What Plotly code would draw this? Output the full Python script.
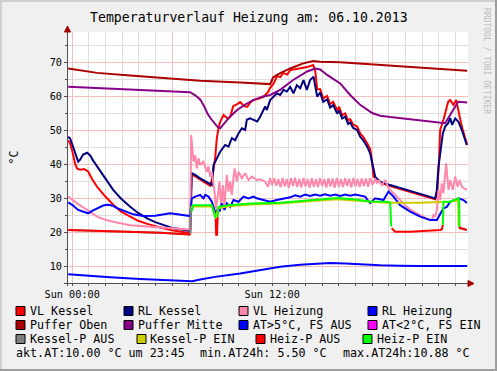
import plotly.graph_objects as go

# ---------------- data: time in hours after Sun 00:00, values in °C ----------------
VLK_T = [-0.24, -0.12, 0.00, 0.18, 0.30, 0.48, 0.72, 0.96, 1.20, 1.50, 1.98, 2.46, 2.94, 3.48, 3.96, 4.50, 4.98, 5.46, 6.00, 6.48, 7.08,
         7.17, 7.38, 7.68, 7.98, 8.28, 8.38, 8.58, 8.68, 8.78, 8.88, 9.08, 9.30, 9.48, 9.66, 9.90, 10.08, 10.32, 10.50, 10.68, 10.86,
         11.16, 11.46, 11.76, 11.88, 12.06, 12.30, 12.48, 12.66, 12.90, 13.08, 13.38, 13.68, 14.10, 14.46, 14.58, 14.70,
         14.88, 15.06, 15.30, 15.48, 15.66, 15.90, 16.02, 16.20, 16.38, 16.56, 16.68, 16.86, 17.10, 17.28, 17.46, 17.70, 17.88, 18.00,
         18.08, 18.28, 18.48, 18.78, 19.08, 21.78, 21.90, 22.02, 22.08, 22.28, 22.48, 22.56, 22.68, 22.88, 23.04, 23.18, 23.38, 23.70]
VLK_V = [47.0, 46.0, 44.0, 40.0, 38.6, 38.3, 38.5, 37.8, 35.5, 33.3, 30.5, 28.0, 26.0, 24.5, 23.3, 22.4, 21.7, 21.1, 20.5, 20.1, 19.6,
         37.0, 36.3, 35.3, 34.5, 33.6, 35.3, 41.7, 47.6, 50.5, 52.4, 54.4, 53.5, 53.8, 57.0, 57.6, 58.2, 57.0, 56.8, 58.0, 58.8,
         59.2, 59.7, 61.2, 62.4, 63.5, 65.9, 65.5, 66.8, 66.3, 67.6, 67.9, 68.2, 68.5, 69.1, 67.6, 62.0,
         62.0, 59.3, 60.0, 57.6, 58.3, 55.8, 56.8, 54.4, 54.9, 52.8, 53.2, 51.6, 51.0, 49.0, 48.0, 46.1, 44.5, 40.5,
         36.3, 35.5, 34.5, 34.0, 33.5, 29.6, 31.0, 42.0, 50.0, 53.0, 56.9, 58.3, 58.8, 57.4, 58.8, 55.9, 51.0, 45.6]

RLK_T = [-0.24, -0.12, 0.06, 0.24, 0.36, 0.48, 0.66, 0.90, 1.08, 1.26, 1.50, 1.98, 2.46, 2.94, 3.48, 3.96, 4.50, 4.98, 5.46, 6.00, 6.48, 7.08,
         7.17, 7.38, 7.68, 7.98, 8.28, 8.40, 8.48, 8.68, 8.88, 9.18, 9.38, 9.58, 9.78, 9.98, 10.18, 10.38, 10.48, 10.68, 10.88, 11.10,
         11.28, 11.58, 11.68, 11.88, 12.08, 12.28, 12.48, 12.68, 12.88, 13.08, 13.28, 13.48, 13.68, 13.88, 14.08, 14.28, 14.48, 14.58, 14.70,
         14.88, 15.06, 15.30, 15.48, 15.66, 15.90, 16.02, 16.20, 16.38, 16.56, 16.68, 16.86, 17.10, 17.28, 17.46, 17.70, 17.88, 18.00,
         18.18, 18.48, 18.78, 19.08, 21.78, 21.88, 21.98, 22.08, 22.24, 22.38, 22.56, 22.68, 22.80, 22.98, 23.18, 23.38, 23.68]
RLK_V = [48.0, 47.5, 45.0, 42.0, 40.7, 41.3, 42.8, 43.3, 42.5, 41.0, 39.2, 35.6, 32.4, 29.8, 27.4, 25.6, 24.0, 22.9, 22.0, 21.2, 20.8, 20.3,
         37.3, 36.8, 35.8, 35.0, 34.2, 33.8, 39.7, 41.7, 43.6, 45.6, 45.1, 47.6, 47.0, 49.0, 50.5, 50.0, 53.0, 53.4, 53.0, 52.5,
         53.9, 56.9, 55.9, 58.8, 59.8, 60.8, 60.3, 61.8, 61.3, 62.7, 60.8, 63.2, 62.3, 64.7, 61.8, 64.7, 65.7, 63.2, 59.8,
         61.0, 58.3, 59.0, 56.6, 57.3, 54.8, 55.8, 53.4, 53.9, 51.8, 52.2, 50.6, 50.0, 48.0, 47.0, 45.1, 43.1, 40.0,
         36.3, 34.8, 34.3, 33.8, 29.9, 32.4, 39.2, 43.1, 49.0, 51.0, 52.0, 53.5, 51.5, 53.4, 52.4, 50.0, 45.6]

VLH_T = [-0.24, 0.00, 0.36, 0.90, 1.50, 1.98, 2.46, 3.48, 4.50, 5.46, 6.48, 7.08,
         7.14, 7.28, 7.38, 7.48, 7.58, 7.68, 7.88, 8.08, 8.18, 8.28, 8.38, 8.54, 8.62, 8.72, 8.84, 8.94, 9.04, 9.14, 9.28, 9.38,
         9.48, 9.58, 9.74, 9.88, 9.98, 10.18, 10.38, 10.58, 10.78, 11.08, 11.28, 11.58,
         11.75, 11.875, 12.0, 12.125, 12.25, 12.375, 12.5, 12.625, 12.75, 12.875, 13.0, 13.125, 13.25, 13.375, 13.5, 13.625,
         13.75, 13.875, 14.0, 14.125, 14.25, 14.375, 14.5, 14.625, 14.75, 14.875, 15.0, 15.125, 15.25, 15.375, 15.5, 15.625,
         15.75, 15.875, 16.0, 16.125, 16.25, 16.375, 16.5, 16.625, 16.75, 16.875, 17.0, 17.125, 17.25, 17.375, 17.5, 17.625,
         17.75, 17.875, 18.0,
         18.08, 18.18, 18.28, 18.38, 18.58, 18.78, 18.98, 19.28, 19.68, 20.08, 20.48, 20.88, 21.28, 21.58, 21.68, 21.78, 21.88,
         21.98, 22.08, 22.18, 22.28, 22.44, 22.58, 22.68, 22.84, 22.98, 23.12, 23.24, 23.38, 23.68]
VLH_V = [30.4, 29.5, 28.2, 26.5, 24.5, 23.6, 23.0, 22.0, 21.6, 21.3, 20.9, 20.7,
         48.5, 40.7, 42.6, 38.7, 41.7, 39.7, 40.7, 37.7, 39.3, 36.3, 37.7, 31.9, 27.0, 29.9, 34.8, 27.0, 33.8, 28.0, 36.8, 31.9,
         34.8, 30.9, 38.7, 34.8, 37.7, 35.8, 37.3, 35.3, 36.3, 35.3, 35.5, 34.8,
         33.3, 35.8, 33.8, 35.8, 33.6, 35.5, 33.2, 35.9, 33.4, 35.6, 33.0, 35.8, 33.5, 36.0, 33.2, 35.7,
         33.1, 35.9, 33.4, 35.6, 33.0, 35.8, 33.3, 35.5, 33.2, 35.9, 33.5, 35.6, 33.1, 35.8, 33.4, 35.7,
         33.0, 35.9, 33.3, 35.6, 33.2, 35.8, 33.5, 35.7, 33.1, 35.9, 33.4, 35.6, 33.2, 35.8, 33.5, 35.7,
         33.3, 35.9, 34.0,
         34.3, 35.8, 34.3, 35.3, 33.8, 35.3, 32.9, 31.4, 29.4, 27.4, 26.0, 25.0, 24.0, 23.5, 25.0, 24.5, 26.5,
         32.4, 29.4, 34.3, 31.4, 40.2, 32.4, 35.3, 32.4, 36.3, 33.3, 35.3, 33.3, 32.4]

RLH_T = [-0.24, 0.00, 0.36, 0.72, 0.96, 1.20, 1.50, 1.86, 2.10, 2.40, 2.70, 3.18, 3.66, 4.26, 4.98, 5.88, 6.48, 7.08,
         7.18, 7.38, 7.68, 7.88, 7.98, 8.18, 8.38, 8.54, 8.64, 8.74, 8.84, 8.98, 9.14, 9.28, 9.48, 9.68, 9.98, 10.28, 10.58,
         10.88, 11.08, 11.48, 11.88, 12.28, 12.66, 13.08, 13.38, 13.68, 13.98, 14.28, 14.58, 14.88, 15.18, 15.48, 15.78,
         16.08, 16.38, 16.68, 16.98, 17.28, 17.58, 17.76, 17.88, 18.18, 18.68, 18.98, 19.28, 19.68, 20.28, 20.88, 21.48,
         21.88, 22.08, 22.28, 22.48, 22.68, 22.98, 23.18, 23.48, 23.68]
RLH_V = [28.7, 28.0, 26.5, 26.0, 25.5, 26.2, 27.0, 27.8, 28.0, 27.8, 27.0, 26.0, 25.2, 24.7, 24.8, 25.5, 25.0, 24.7,
         29.9, 30.4, 30.9, 29.9, 30.9, 30.4, 28.9, 26.0, 25.0, 27.0, 26.0, 28.4, 26.5, 28.4, 27.4, 29.4, 28.9, 30.4, 29.9,
         30.4, 29.9, 29.4, 28.9, 29.4, 29.8, 30.2, 30.8, 30.4, 31.0, 30.6, 31.0, 30.7, 31.1, 30.7, 31.0,
         30.6, 31.0, 30.7, 31.0, 30.6, 30.4, 29.2, 28.5, 29.9, 29.4, 31.9, 30.4, 27.9, 26.0, 24.5, 23.5,
         23.5, 25.5, 27.0, 27.4, 28.9, 29.4, 29.9, 29.4, 28.5]

PO_T = [-0.24, 1.50, 3.48, 5.46, 7.68, 10.08, 11.88, 12.06, 12.48, 13.08, 13.86, 14.46, 14.88, 16.08, 17.88, 20.46, 23.70]
PO_V = [68.1, 66.8, 66.0, 65.2, 64.5, 64.0, 63.5, 65.5, 66.7, 68.1, 69.6, 70.3, 70.1, 69.9, 69.3, 68.3, 67.4]

PM_T = [-0.24, 3.48, 7.08, 7.38, 7.68, 7.92, 8.10, 8.28, 8.46, 8.70, 8.88, 9.18, 9.48, 9.90, 10.38, 10.86, 11.40, 11.88,
        12.48, 13.26, 14.10, 14.58, 14.88, 15.30, 16.08, 16.68, 17.28, 18.00, 18.48, 19.08, 20.28, 22.08, 22.38, 22.68,
        22.98, 23.16, 23.70]
PM_V = [62.7, 61.8, 61.1, 60.2, 59.0, 57.0, 55.0, 53.6, 52.4, 51.0, 50.5, 52.4, 54.0, 55.9, 57.5, 58.8, 59.8, 60.3,
        61.8, 64.7, 67.2, 68.1, 67.8, 66.2, 63.7, 60.3, 57.4, 55.0, 54.2, 53.8, 53.2, 52.3, 52.0, 54.4,
        57.0, 58.3, 58.1]

AT_T = [-0.24, 0.48, 2.28, 4.08, 5.88, 6.78, 7.20, 7.68, 8.58, 10.08, 11.28, 12.48, 13.68, 14.46, 15.48, 16.38, 17.28,
        18.48, 19.68, 20.88, 23.70]
AT_V = [7.6, 7.3, 6.7, 6.2, 5.7, 5.5, 5.5, 6.0, 6.8, 7.8, 8.7, 9.8, 10.4, 10.7, 10.88, 10.7, 10.4, 10.2, 10.1, 10.0, 10.0]

AT2_T = []   # outdoor temperature never below 2 °C
AT2_V = []

KPA_T = [-0.24, 1.68, 3.48, 5.28, 7.08, 7.13, None, 23.19, 23.28, 23.68]
KPA_V = [20.6, 20.3, 20.1, 19.8, 19.3, 27.5, None, 21.6, 21.1, 20.6]
KPE_T = [7.13, 7.20, 7.68, 8.38, 8.54, 8.64, 8.76, 9.36, 10.78, 12.48, 14.46, 15.90, 16.86, 18.90, 20.88, 22.08, 22.68,
         23.08, 23.16, 23.19]
KPE_V = [27.5, 27.5, 27.6, 27.6, 25.5, 24.5, 27.0, 27.6, 28.1, 28.4, 29.1, 29.6, 29.3, 28.6, 28.6, 28.7, 28.9,
         29.4, 28.5, 21.6]

HPA_T = [-0.24, 1.68, 3.48, 5.28, 7.08, None, 8.61, 8.64, 8.69, 8.73, None, 19.17, 19.38, 20.28, 21.48, 22.08, 22.18,
         22.24, None, 23.24, 23.28, 23.38, 23.68]
HPA_V = [20.6, 20.3, 20.1, 19.8, 19.3, None, 24.0, 19.2, 19.2, 24.5, None, 21.1, 20.1, 20.1, 20.4, 20.6, 20.8,
         22.1, None, 21.6, 21.1, 21.1, 20.6]
HPE_T = [7.17, 7.26, 7.68, 8.38, 8.54, 8.61, None, 8.73, 8.78, 9.36, 10.78, 12.48, 14.46, 15.90, 16.86, 17.88, 18.90,
         19.08, 19.14, None, 22.24, 22.28, 22.68, 22.98, 23.18, 23.22, 23.24]
HPE_V = [26.0, 27.9, 27.9, 27.9, 25.0, 24.0, None, 24.5, 27.4, 27.9, 28.4, 28.6, 29.4, 30.0, 29.6, 29.0, 28.9,
         28.6, 21.6, None, 22.1, 28.9, 28.9, 29.4, 29.9, 29.5, 21.6]

X_TICKS = [0, 6, 12, 18]
X_TICKTEXT = ["Sun 00:00", "", "Sun 12:00", ""]

LEG_NAMES = ["VL Kessel", "RL Kessel", "VL Heizung", "RL Heizung",
             "Puffer Oben", "Puffer Mitte", "AT&gt;5°C, FS AUS", "AT&lt;2°C, FS EIN",
             "Kessel-P AUS", "Kessel-P EIN", "Heiz-P AUS", "Heiz-P EIN"]
COMMENTS = ["akt.AT:10.00 °C um 23:45", "min.AT24h: 5.50 °C", "max.AT24h:10.88 °C"]
TITLE = "Temperaturverlauf Heizung am: 06.10.2013"

# ---------------- styles ----------------
COLORS = ["#FF0000", "#000080", "#FF88AA", "#0000FF",
          "#AA0000", "#880088", "#0000FF", "#FF00FF",
          "#808080", "#CCCC00", "#FF0000", "#00FF00"]
SERIES = [(VLK_T, VLK_V), (RLK_T, RLK_V), (VLH_T, VLH_V), (RLH_T, RLH_V),
          (PO_T, PO_V), (PM_T, PM_V), (AT_T, AT_V), (AT2_T, AT2_V),
          (KPA_T, KPA_V), (KPE_T, KPE_V), (HPA_T, HPA_V), (HPE_T, HPE_V)]

FONT = "DejaVu Sans Mono"
W, H = 497, 371
L, R, T, B = 68, 29, 32, 88
PW, PH = W - L - R, H - T - B
BOTTOM = H - B


def fx(p):
    return (p - L) / PW


def fy(p):
    return (BOTTOM - p) / PH


fig = go.Figure()
for name, (t, v), c in zip(LEG_NAMES, SERIES, COLORS):
    fig.add_trace(go.Scatter(x=t, y=v, mode="lines", name=name,
                             line=dict(color=c, width=2), connectgaps=False,
                             showlegend=False, hoverinfo="skip"))

GRID = "#DEDEDE"
MGRID = "#F4BEBE"
AXIS = "#505050"
ARROW = "#A00000"

fig.update_layout(
    width=W, height=H,
    margin=dict(l=L, r=R, t=T, b=B, pad=0),
    paper_bgcolor="#F0F0F0", plot_bgcolor="#FFFFFF",
    showlegend=False,
    font=dict(family=FONT, size=11.7, color="#000000"),
    xaxis=dict(range=[-0.25, 23.75], tickmode="array", tickvals=X_TICKS, ticktext=X_TICKTEXT,
               showgrid=True, gridcolor=MGRID, gridwidth=1, zeroline=False, showline=False,
               ticks="outside", ticklen=2, tickcolor=AXIS,
               tickfont=dict(family=FONT, size=10.2, color="#000000"),
               minor=dict(tickmode="linear", tick0=0, dtick=1, showgrid=True, gridcolor=GRID,
                          gridwidth=1, ticks="outside", ticklen=2, tickcolor=AXIS),
               fixedrange=True),
    yaxis=dict(range=[5, 5 + PH / 3.4], tickmode="linear", tick0=0, dtick=10,
               showgrid=True, gridcolor=MGRID, gridwidth=1, zeroline=False, showline=False,
               ticks="outside", ticklen=3, tickcolor=AXIS,
               tickfont=dict(family=FONT, size=10.2, color="#000000"),
               minor=dict(tickmode="linear", tick0=0, dtick=5, showgrid=True, gridcolor=GRID,
                          gridwidth=1, ticks="outside", ticklen=2, tickcolor=AXIS),
               fixedrange=True),
)

shapes = []
annotations = []

# frame shading
shapes.append(dict(type="rect", xref="paper", yref="paper", x0=fx(0), x1=fx(W), y0=fy(0), y1=fy(2),
                   fillcolor="#CFCFCF", line=dict(width=0), layer="below"))
shapes.append(dict(type="rect", xref="paper", yref="paper", x0=fx(0), x1=fx(2), y0=fy(0), y1=fy(H),
                   fillcolor="#CFCFCF", line=dict(width=0), layer="below"))
shapes.append(dict(type="rect", xref="paper", yref="paper", x0=fx(W - 2), x1=fx(W), y0=fy(0), y1=fy(H),
                   fillcolor="#9E9E9E", line=dict(width=0), layer="below"))
shapes.append(dict(type="rect", xref="paper", yref="paper", x0=fx(0), x1=fx(W), y0=fy(H - 2), y1=fy(H),
                   fillcolor="#9E9E9E", line=dict(width=0), layer="below"))

# axes with arrows
shapes.append(dict(type="line", xref="paper", yref="paper", x0=fx(67.5), x1=fx(67.5), y0=fy(286), y1=fy(28),
                   line=dict(color=AXIS, width=1), layer="above"))
shapes.append(dict(type="line", xref="paper", yref="paper", x0=fx(64), x1=fx(470), y0=fy(283.5), y1=fy(283.5),
                   line=dict(color=AXIS, width=1), layer="above"))
shapes.append(dict(type="path", xref="paper", yref="paper",
                   path=f"M {fx(64.5)} {fy(32)} L {fx(70.5)} {fy(32)} L {fx(67.5)} {fy(26)} Z",
                   fillcolor=ARROW, line=dict(color=ARROW, width=1), layer="above"))
shapes.append(dict(type="path", xref="paper", yref="paper",
                   path=f"M {fx(468)} {fy(280.5)} L {fx(468)} {fy(286.5)} L {fx(474)} {fy(283.5)} Z",
                   fillcolor=ARROW, line=dict(color=ARROW, width=1), layer="above"))

# title, unit label and watermark
annotations.append(dict(text=TITLE, xref="paper", yref="paper", x=fx(249), y=fy(17), showarrow=False,
                        xanchor="center", yanchor="middle", borderpad=0, borderwidth=0,
                        font=dict(family=FONT, size=13.2, color="#000000")))
annotations.append(dict(text="°C", xref="paper", yref="paper", x=fx(13), y=fy(157.5), showarrow=False,
                        textangle=-90, xanchor="center", yanchor="middle",
                        font=dict(family=FONT, size=11.7, color="#000000")))
annotations.append(dict(text="RRDTOOL / TOBI OETIKER", xref="paper", yref="paper", x=fx(487), y=fy(61),
                        showarrow=False, textangle=90, xanchor="center", yanchor="middle",
                        font=dict(family=FONT, size=8, color="#BBBBBB")))

# legend (RRDtool style)
LEG_ROW_Y = [311, 311, 311, 311, 325, 325, 325, 325, 339, 339, 339, 339]
LEG_BOX_X = [16, 124, 239, 368, 16, 124, 239, 368, 16, 137, 256, 363]
LEG_TXT_X = [30, 138, 253, 382, 30, 138, 253, 382, 30, 150, 270, 377]
for name, c, ry, bx, tx in zip(LEG_NAMES, COLORS, LEG_ROW_Y, LEG_BOX_X, LEG_TXT_X):
    shapes.append(dict(type="rect", xref="paper", yref="paper", x0=fx(bx), x1=fx(bx + 9),
                       y0=fy(ry + 4.5), y1=fy(ry - 4.5), fillcolor=c,
                       line=dict(color="#000000", width=1), layer="above"))
    annotations.append(dict(text=name, xref="paper", yref="paper", x=fx(tx), y=fy(ry), showarrow=False,
                            xanchor="left", yanchor="middle", borderpad=0, borderwidth=0,
                            font=dict(family=FONT, size=11.7, color="#000000")))

COMMENT_X = [16, 200, 342.7]
for txt, cx in zip(COMMENTS, COMMENT_X):
    annotations.append(dict(text=txt, xref="paper", yref="paper", x=fx(cx), y=fy(353), showarrow=False,
                            xanchor="left", yanchor="middle", borderpad=0, borderwidth=0,
                            font=dict(family=FONT, size=11.7, color="#000000")))

fig.update_layout(shapes=shapes, annotations=annotations)
fig.write_html("out.html", config={"displayModeBar": False, "staticPlot": True},
               post_script="document.body.style.margin='0';document.body.style.padding='0';"
                           "document.body.style.overflow='hidden';")
